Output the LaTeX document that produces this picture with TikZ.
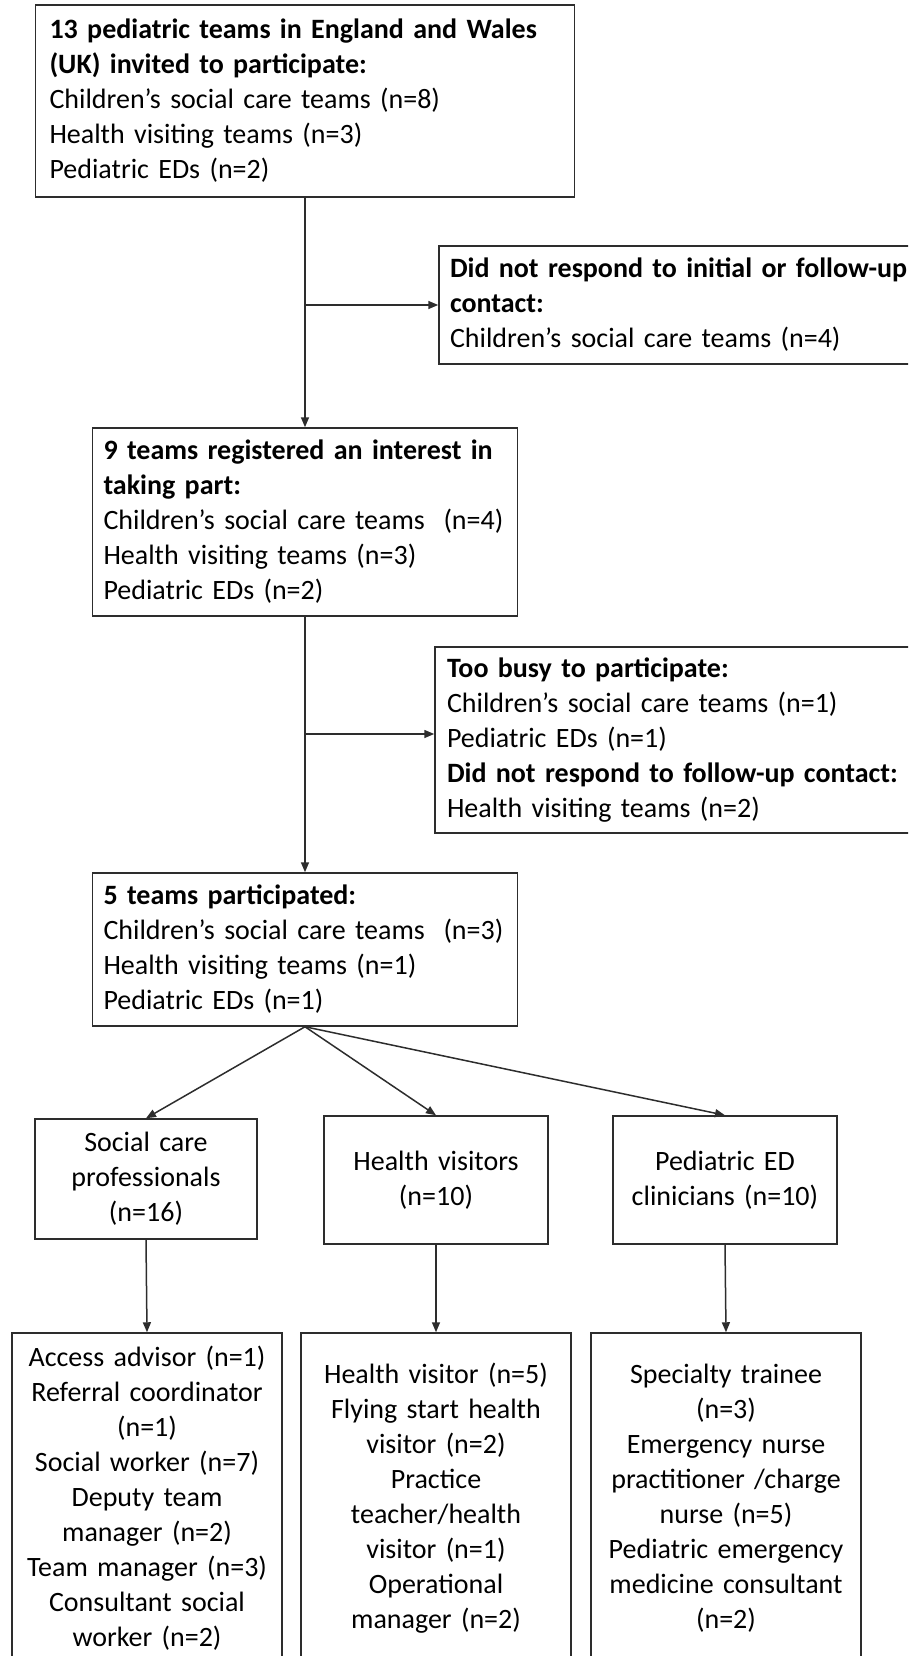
\documentclass[tikz,border=0pt]{standalone}
\usepackage{fontspec}
\setmainfont{Carlito}
\usetikzlibrary{arrows.meta}
\definecolor{edgegray}{RGB}{45,45,45}
\newcommand{\flowfont}{\fontsize{28}{35}\selectfont}
\tikzset{
  stagebox/.style={draw=edgegray,line width=1.5pt,inner xsep=14pt,inner ysep=0pt,
                   align=left,font=\flowfont},
  rolebox/.style={stagebox,align=center,inner xsep=10pt},
  flow/.style={-{Triangle[length=10pt,width=8pt]},draw=edgegray,line width=1.5pt},
}
\begin{document}
\begin{tikzpicture}[x=1pt,y=-1pt]
  \useasboundingbox (0,0) rectangle (908,1656);
  \clip (0,0) rectangle (908,1656);

  % recruitment stages
  \node[stagebox,text width=511pt,minimum height=192pt] (invite) at (305,101)
    {\textbf{13 pediatric teams in England and Wales}\\
     \textbf{(UK) invited to participate:}\\
     Children’s social care teams (n=8)\\
     Health visiting teams (n=3)\\
     Pediatric EDs (n=2)};
  \node[stagebox,text width=476pt,inner xsep=11pt,minimum height=118pt] (noreply) at (688,305)
    {\textbf{Did not respond to initial or follow-up}\\
     \textbf{contact:}\\
     Children’s social care teams (n=4)};
  \node[stagebox,text width=403pt,inner xsep=11pt,minimum height=188pt] (register) at (305,522)
    {\textbf{9 teams registered an interest in}\\
     \textbf{taking part:}\\
     Children’s social care teams~~(n=4)\\
     Health visiting teams (n=3)\\
     Pediatric EDs (n=2)};
  \node[stagebox,text width=476pt,inner xsep=12pt,minimum height=186pt] (dropout) at (685,740)
    {\textbf{Too busy to participate:}\\
     Children’s social care teams (n=1)\\
     Pediatric EDs (n=1)\\
     \textbf{Did not respond to follow-up contact:}\\
     Health visiting teams (n=2)};
  \node[stagebox,text width=403pt,inner xsep=11pt,minimum height=153pt] (joined) at (305,949.5)
    {\textbf{5 teams participated:}\\
     Children’s social care teams~~(n=3)\\
     Health visiting teams (n=1)\\
     Pediatric EDs (n=1)};

  % professional groups
  \node[rolebox,text width=202pt,minimum height=120pt] (social) at (146,1179)
    {Social care\\professionals\\(n=16)};
  \node[rolebox,text width=204pt,minimum height=128pt] (visitors) at (436,1180)
    {Health visitors\\(n=10)};
  \node[rolebox,text width=204pt,minimum height=128pt] (clinic) at (725,1180)
    {Pediatric ED\\clinicians (n=10)};

  % job roles
  \node[rolebox,text width=250pt,minimum height=331pt] (socialroles) at (147,1498.5)
    {Access advisor (n=1)\\Referral coordinator\\(n=1)\\Social worker (n=7)\\
     Deputy team\\manager (n=2)\\Team manager (n=3)\\Consultant social\\worker (n=2)};
  \node[rolebox,text width=250pt,minimum height=331pt] (visitorroles) at (436,1498.5)
    {Health visitor (n=5)\\Flying start health\\visitor (n=2)\\Practice\\
     teacher/health\\visitor (n=1)\\Operational\\manager (n=2)};
  \node[rolebox,text width=250pt,minimum height=331pt] (clinicroles) at (726,1498.5)
    {Specialty trainee\\(n=3)\\Emergency nurse\\practitioner /charge\\nurse (n=5)\\
     Pediatric emergency\\medicine consultant\\(n=2)};

  % connectors
  \coordinate (split1) at (305,305);
  \coordinate (split2) at (305,734);
  \draw[flow] (invite.south) -- (register.north);
  \draw[flow] (split1) -- (split1 -| noreply.west);
  \draw[flow] (register.south) -- (joined.north);
  \draw[flow] (split2) -- (split2 -| dropout.west);
  \draw[flow] (joined.south) -- (social.north);
  \draw[flow] (joined.south) -- (visitors.north);
  \draw[flow] (joined.south) -- (clinic.north);
  \draw[flow] (social.south) -- (socialroles.north);
  \draw[flow] (visitors.south) -- (visitorroles.north);
  \draw[flow] (clinic.south) -- (clinicroles.north);
\end{tikzpicture}
\end{document}
